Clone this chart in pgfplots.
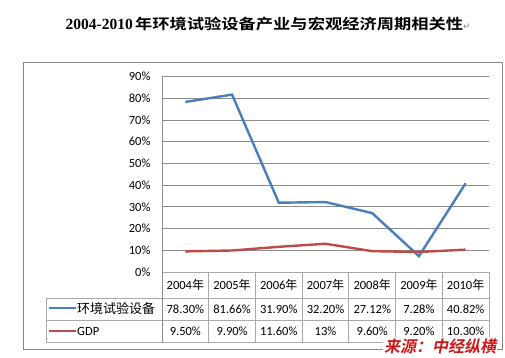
\documentclass[border=0pt]{standalone}
\usepackage{fontspec}
\usepackage{pgfplots}
\pgfplotsset{compat=1.18}
\setmainfont{Carlito}
\newfontfamily\cjk{Noto Sans CJK SC}
\newfontfamily\cjktitle[FakeStretch=1.19]{Noto Sans CJK SC Bold}
\newfontfamily\cjksrc[FakeSlant=0.2]{Noto Sans CJK SC Bold}
\newfontfamily\titlelat{Liberation Serif}
\newfontfamily\dejavu{DejaVu Sans}
\definecolor{serblue}{RGB}{74,126,187}
\definecolor{serred}{RGB}{190,75,72}
\definecolor{framegray}{RGB}{134,134,134}
\definecolor{gridgray}{RGB}{140,140,140}
\definecolor{tabgray}{RGB}{170,170,170}
\definecolor{srcred}{RGB}{205,25,25}
\begin{document}
\begin{tikzpicture}[x=1pt,y=1pt]
\useasboundingbox (0,0) rectangle (505,357);
% outer frame
\draw[framegray, line width=1pt] (23,295) rectangle (502.5,8);
% title
\node[anchor=base east, inner sep=0] at (133,327) {\titlelat\bfseries\fontsize{15.5}{16}\selectfont 2004-2010};
\node[anchor=base west, inner sep=0] at (135,327) {\cjktitle\fontsize{14.5}{16}\selectfont 年环境试验设备产业与宏观经济周期相关性{\dejavu\color{gray}\fontsize{9}{10}\selectfont ↵}};
\begin{axis}[
  at={(162pt,85pt)}, anchor=south west,
  scale only axis, width=327pt, height=195.5pt,
  xmin=-0.5, xmax=6.5, ymin=0, ymax=90,
  axis x line=none, axis y line*=left,
  axis line style={gridgray, line width=0.8pt},
  xtick=\empty,
  ytick={0,10,...,90},
  yticklabel={\pgfmathprintnumber{\tick}\%},
  /pgf/number format/assume math mode=true,
  ticklabel style={font=\fontsize{12.5}{13}\selectfont},
  yticklabel style={xshift=-8pt},
  major tick length=0pt,
  ymajorgrids, grid style={gridgray, line width=0.8pt},
  clip=false,
]
\addplot[serblue, line width=2.4pt, mark=none] coordinates {(0,78.30) (1,81.66) (2,31.90) (3,32.20) (4,27.12) (5,7.28) (6,40.82)};
\addplot[serred, line width=2.4pt, mark=none] coordinates {(0,9.50) (1,9.90) (2,11.60) (3,13.00) (4,9.60) (5,9.20) (6,10.30)};
\end{axis}
% data table
\begin{scope}[tabgray, line width=0.8pt]
\draw (162,85) -- (489,85);
\draw (46,59) -- (489,59);
\draw (46,36.5) -- (489,36.5);
\draw (46,15) -- (489,15);
\draw (46,59) -- (46,15);
\foreach \i in {0,...,7} {\draw ({162+\i*46.714},85) -- ({162+\i*46.714},15);}
\end{scope}
\draw[gridgray, line width=0.8pt] (162,85) -- (162,15);
% legend keys
\draw[serblue, line width=2.4pt] (49,49) -- (76,49);
\draw[serred, line width=2.4pt] (49,26) -- (76,26);
\node[anchor=west, inner sep=0] at (77,48) {\cjk\fontsize{13}{14}\selectfont 环境试验设备};
\node[anchor=west, inner sep=0] at (77,26) {\fontsize{12.5}{13}\selectfont GDP};
% header and values
\foreach \y [count=\i from 0] in {2004,2005,2006,2007,2008,2009,2010} {
  \node[inner sep=0] at ({162+(\i+0.5)*46.714},72) {\fontsize{12.5}{13}\selectfont \y{\cjk\fontsize{12}{13}\selectfont 年}};
}
\foreach \v [count=\i from 0] in {78.30\%,81.66\%,31.90\%,32.20\%,27.12\%,7.28\%,40.82\%} {
  \node[inner sep=0] at ({162+(\i+0.5)*46.714},47.5) {\fontsize{12.5}{13}\selectfont \v};
}
\foreach \v [count=\i from 0] in {9.50\%,9.90\%,11.60\%,13\%,9.60\%,9.20\%,10.30\%} {
  \node[inner sep=0] at ({162+(\i+0.5)*46.714},26) {\fontsize{12.5}{13}\selectfont \v};
}
% source
\node[fill=white, inner sep=1pt, text=srcred] at (440,11) {\cjksrc\fontsize{16}{17}\selectfont 来源：中经纵横};
\end{tikzpicture}
\end{document}
